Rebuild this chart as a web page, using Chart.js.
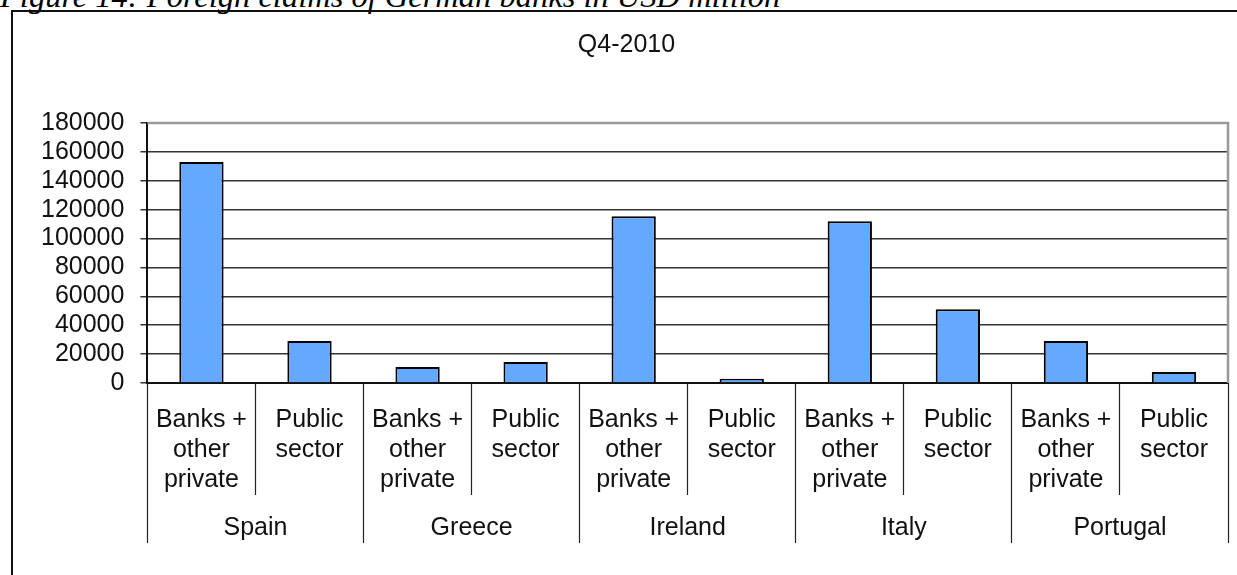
<!DOCTYPE html>
<html>
<head>
<meta charset="utf-8">
<script src="https://cdn.jsdelivr.net/npm/chart.js@4.4.0/dist/chart.umd.min.js"></script>
<style>
html, body { margin: 0; padding: 0; background: #fff; overflow: hidden; }
#caption { position: absolute; left: 0; top: -20px; font-family: "Liberation Serif", "Times New Roman", serif; font-style: italic; font-size: 32.5px; line-height: 1; color: #000; white-space: nowrap; }
#frame { position: absolute; left: 11px; top: 10px; width: 1300px; height: 700px; border: 2px solid #111; }
#wrap { position: absolute; left: 0; top: 0; width: 1237px; height: 575px; }
</style>
</head>
<body>
<div id="caption">Figure 14: Foreign claims of German banks in USD million</div>
<div id="frame"></div>
<div id="wrap"><canvas id="claimsChart" width="1237" height="575"></canvas></div>
<script>
var countries = ['Spain', 'Greece', 'Ireland', 'Italy', 'Portugal'];
var sectors = [['Banks +', 'other', 'private'], ['Public', 'sector']];
var claims = [153000, 29000, 11000, 14500, 115500, 3000, 112000, 51000, 29000, 7600];
var yMax = 180000;
var yStep = 20000;

var labels = [];
for (var i in countries) {
	for (var j in sectors) {
		labels.push(sectors[j]);
	}
}

var font = '"Liberation Sans", Arial, sans-serif';

// grey frame on top and right of the plot
var plotFrame = {
	id : 'plotFrame',
	beforeDatasetsDraw : function(chart) {
		var a = chart.chartArea;
		var ctx = chart.ctx;
		ctx.save();
		ctx.strokeStyle = '#999';
		ctx.lineWidth = 2.5;
		ctx.beginPath();
		ctx.moveTo(a.left, a.top);
		ctx.lineTo(a.right, a.top);
		ctx.lineTo(a.right, a.bottom);
		ctx.stroke();
		ctx.restore();
	}
};

var claimsChart = new Chart(document.getElementById('claimsChart'), {
	type : 'bar',
	data : {
		labels : labels,
		datasets : [ {
			data : claims,
			backgroundColor : '#64a9ff',
			borderColor : '#000',
			borderWidth : 2,
			categoryPercentage : 1,
			barPercentage : 0.41,
			xAxisID : 'x'
		} ]
	},
	options : {
		responsive : false,
		animation : false,
		devicePixelRatio : 1,
		layout : {
			padding : { left : 25, right : 9, top : 10, bottom : 32 }
		},
		plugins : {
			legend : { display : false },
			tooltip : { enabled : false },
			title : {
				display : true,
				text : 'Q4-2010',
				color : '#111',
				font : { family : font, size : 25, weight : 'normal' },
				padding : { top : 20, bottom : 63 }
			}
		},
		scales : {
			x : {
				type : 'category',
				position : 'bottom',
				offset : true,
				grid : {
					offset : true,
					drawOnChartArea : false,
					tickLength : 112,
					tickColor : '#222',
					tickWidth : 1.2
				},
				border : { display : true, color : '#111', width : 2 },
				ticks : {
					color : '#111',
					font : { family : font, size : 25, lineHeight : 1.2 },
					padding : -90,
					maxRotation : 0,
					autoSkip : false
				},
				afterFit : function(scale) { scale.height = 112; }
			},
			x2 : {
				type : 'category',
				position : 'bottom',
				labels : countries,
				offset : true,
				grid : {
					offset : true,
					drawOnChartArea : false,
					tickLength : 48,
					tickColor : '#222',
					tickWidth : 1.2
				},
				border : { display : false },
				ticks : {
					color : '#111',
					font : { family : font, size : 25, lineHeight : 1.2 },
					padding : -30,
					maxRotation : 0,
					autoSkip : false
				},
				afterFit : function(scale) { scale.height = 48; }
			},
			y : {
				min : 0,
				max : yMax,
				grid : {
					color : '#333',
					lineWidth : 1.5,
					tickLength : 7,
					tickColor : '#333'
				},
				border : { display : true, color : '#111', width : 2 },
				ticks : {
					stepSize : yStep,
					autoSkip : false,
					color : '#111',
					padding : 16,
					font : { family : font, size : 25, lineHeight : 1 },
					callback : function(v) { return String(v); }
				}
			}
		}
	},
	plugins : [ plotFrame ]
});
</script>
</body>
</html>
